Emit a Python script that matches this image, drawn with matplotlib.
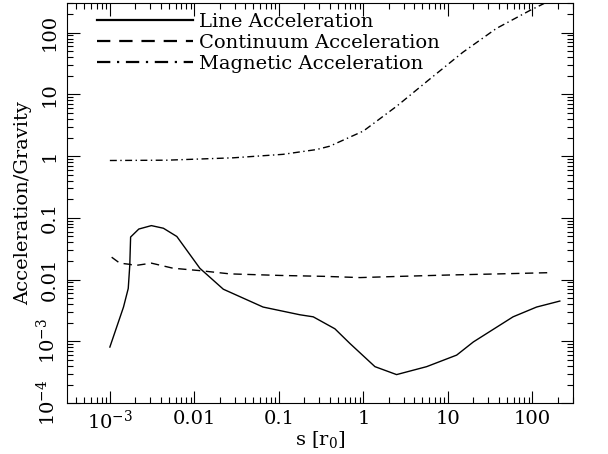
import numpy as np
import matplotlib
matplotlib.use("Agg")
import matplotlib.pyplot as plt
from matplotlib.lines import Line2D
from matplotlib.ticker import LogLocator, NullFormatter

# line acceleration (solid)
lineX = [1.0e-3, 1.45e-3, 1.65e-3, 1.72e-3, 1.76e-3, 2.2e-3, 3.1e-3, 4.3e-3, 6.2e-3,
         0.0116, 0.022, 0.065, 0.177, 0.255, 0.46, 0.69, 1.37, 2.47, 5.6, 12.7, 20, 59, 112, 211]
lineY = [8.1e-4, 3.6e-3, 7.2e-3, 0.017, 0.049, 0.066, 0.075, 0.068, 0.050,
         0.0153, 7.0e-3, 3.6e-3, 2.7e-3, 2.5e-3, 1.6e-3, 9.3e-4, 3.9e-4, 2.9e-4, 3.9e-4, 6.0e-4, 9.8e-4, 2.5e-3, 3.6e-3, 4.5e-3]

# continuum acceleration (dashed)
contX = [1.05e-3, 1.31e-3, 1.72e-3, 1.98e-3, 3.1e-3, 5.6e-3, 0.0116, 0.0263, 0.103, 0.35, 0.91, 2.7, 10.5, 41, 169]
contY = [0.0231, 0.0185, 0.0177, 0.0169, 0.0185, 0.0153, 0.0140, 0.0124, 0.0117, 0.0113, 0.0108, 0.0113, 0.0119, 0.0124, 0.0130]

# magnetic acceleration (dash-dot)
magX = [1.0e-3, 4.7e-3, 0.029, 0.112, 0.28, 0.40, 1.0, 2.5, 6.1, 15, 37.5, 93, 135, 200]
magY = [0.85, 0.86, 0.94, 1.07, 1.28, 1.45, 2.55, 6.5, 17.7, 48, 117, 228, 293, 420]

plt.rcParams['font.family'] = 'DejaVu Serif'
plt.rcParams['mathtext.fontset'] = 'dejavuserif'
plt.rcParams['font.size'] = 14

fig = plt.figure(figsize=(6.08, 4.54), dpi=100)
ax = fig.add_axes([0.110, 0.112, 0.832, 0.881])

ax.plot(lineX, lineY, color='black', lw=1.0)
ax.plot(contX, contY, color='black', lw=1.0, dashes=(6, 4))
ax.plot(magX, magY, color='black', lw=1.0, dashes=(5, 2.5, 1, 2.5))

ax.set_xscale('log')
ax.set_yscale('log')
ax.set_xlim(3.1e-4, 300)
ax.set_ylim(1e-4, 300)

xt = [1e-3, 1e-2, 1e-1, 1, 10, 100]
ax.set_xticks(xt, [r'$10^{-3}$', '0.01', '0.1', '1', '10', '100'])
yt = [1e-4, 1e-3, 1e-2, 1e-1, 1, 10, 100]
ax.set_yticks(yt, [r'$10^{-4}$', r'$10^{-3}$', '0.01', '0.1', '1', '10', '100'])
for lab in ax.get_yticklabels():
    lab.set_rotation(90)
    lab.set_va('center')
ax.xaxis.set_minor_locator(LogLocator(base=10, subs=np.arange(2, 10), numticks=20))
ax.yaxis.set_minor_locator(LogLocator(base=10, subs=np.arange(2, 10), numticks=20))
ax.xaxis.set_minor_formatter(NullFormatter())
ax.yaxis.set_minor_formatter(NullFormatter())
ax.tick_params(which='both', direction='in', top=True, right=True, width=0.8)
ax.tick_params(which='major', length=9)
ax.tick_params(axis='x', which='major', pad=5)
ax.tick_params(axis='y', which='major', pad=6)
ax.tick_params(which='minor', length=4.5)

ax.set_xlabel(r's [r$_0$]', labelpad=-3)
ax.set_ylabel('Acceleration/Gravity', labelpad=2)

handles = [Line2D([], [], color='black', lw=1.6),
           Line2D([], [], color='black', lw=1.6, dashes=(6, 4)),
           Line2D([], [], color='black', lw=1.6, dashes=(6, 3, 1, 3))]
ax.legend(handles, ['Line Acceleration', 'Continuum Acceleration', 'Magnetic Acceleration'],
          loc='upper left', frameon=False, handlelength=4.9, handletextpad=0.3,
          labelspacing=0.15, borderaxespad=0.0, bbox_to_anchor=(0.045, 0.995))

fig.savefig('out.png', dpi=100)
